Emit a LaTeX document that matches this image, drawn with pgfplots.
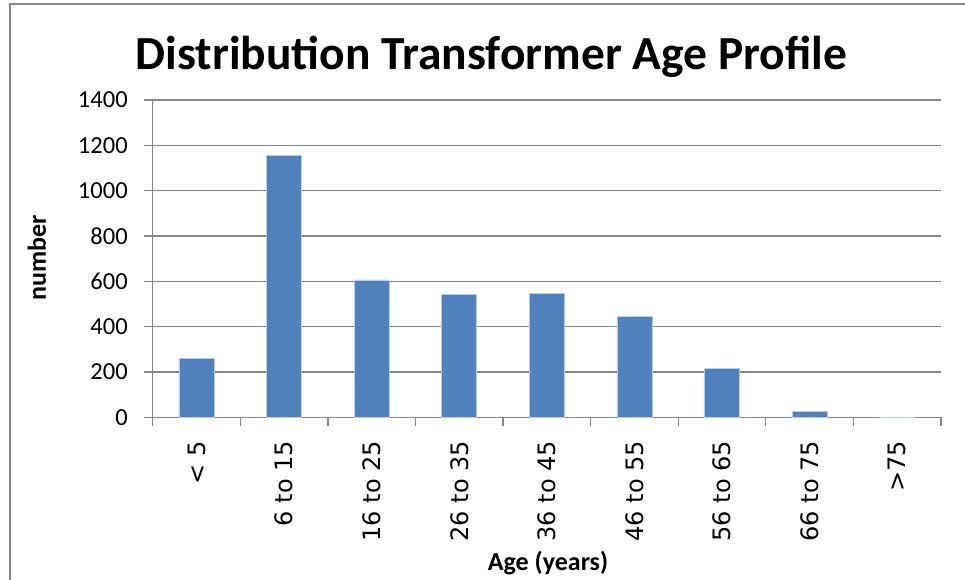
\documentclass[border=0pt]{standalone}
\usepackage{fontspec}
\setmainfont{Carlito}
\newfontfamily\tickfontdv{DejaVu Sans}
\usepackage{pgfplots}
\pgfplotsset{compat=1.18}
\definecolor{barblue}{HTML}{4F81BD}
\definecolor{baredge}{HTML}{B9CDE5}
\definecolor{axgray}{HTML}{868686}
\begin{document}
\begin{tikzpicture}[x=1pt,y=1pt]
\useasboundingbox (0,0) rectangle (965,-579);
\fill[white] (0,0) rectangle (965,-579);
\draw[axgray, line width=2pt] (10,-600) -- (10,-3.5) -- (980,-3.5);
\begin{axis}[
  at={(152.7pt,-417.3pt)}, anchor=south west,
  scale only axis, width=788.3pt, height=317.3pt,
  xmin=0, xmax=9, ymin=0, ymax=1400,
  axis lines*=left,
  axis line style={axgray, line width=1.3pt},
  ytick={0,200,...,1400},
  ymajorgrids, grid style={axgray, line width=1.3pt},
  tick align=outside,
  major tick length=8.5pt, minor tick length=8.5pt,
  ytick style={axgray, line width=1.3pt},
  xtick={0.5,1.5,2.5,3.5,4.5,5.5,6.5,7.5,8.5},
  minor xtick={0,1,2,3,4,5,6,7,8,9},
  major x tick style={draw=none},
  minor x tick style={axgray, line width=1.3pt},
  xticklabels={{< 5},{6 to 15},{16 to 25},{26 to 35},{36 to 45},{46 to 55},{56 to 65},{66 to 75},{>75}},
  xticklabel style={rotate=90, anchor=east, inner sep=3pt, xshift=-12pt, font=\tickfontdv\fontsize{24}{26}\selectfont},
  yticklabel style={font=\fontsize{24.5}{26}\selectfont, xshift=-13pt},
  /pgf/number format/assume math mode=true,
  /pgf/number format/1000 sep={},
  every axis y label/.style={at={(axis description cs:-0.147,0.502)}, rotate=90, anchor=center, font=\bfseries\fontsize{26}{28}\selectfont},
  every axis x label/.style={at={(axis description cs:0.5015,-0.459)}, anchor=center, font=\bfseries\fontsize{26}{28}\selectfont},
  ylabel={number},
  xlabel={Age (years)},
  title={Distribution Transformer Age Profile},
  every axis title/.style={at={(axis description cs:0.4298,1.0946)}, anchor=base, font=\bfseries\fontsize{47.5}{50}\selectfont},
  ybar, bar width=35pt,
]
\addplot[fill=barblue, draw=baredge, line width=0.8pt] coordinates {
  (0.5,260) (1.5,1157) (2.5,606) (3.5,544) (4.5,548) (5.5,444) (6.5,215) (7.5,25) (8.5,0)
};
\end{axis}
\end{tikzpicture}
\end{document}
